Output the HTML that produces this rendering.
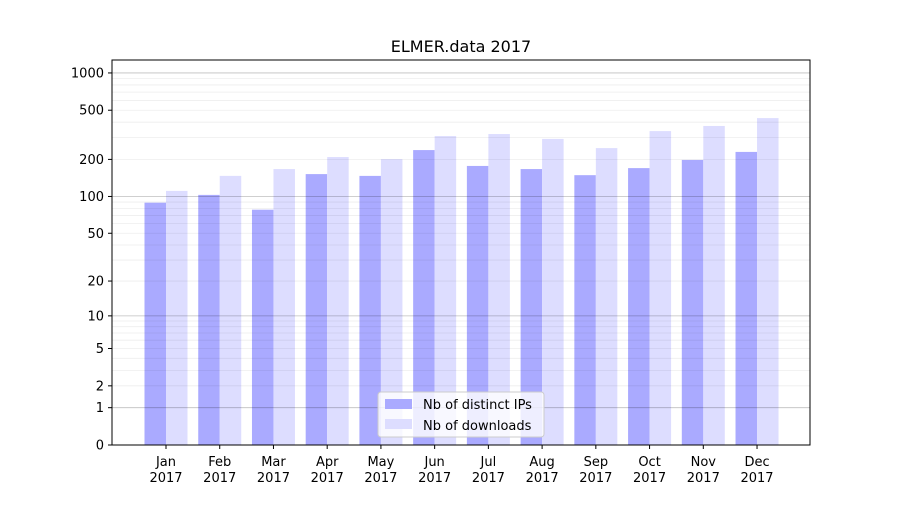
<!DOCTYPE html>
<html><head><meta charset="utf-8"><style>
body{margin:0;background:#fff;font-family:"Liberation Sans","DejaVu Sans",sans-serif}
svg text{font-family:"DejaVu Sans","Liberation Sans",sans-serif}
</style></head><body>
<svg id="chart" width="900" height="500" xmlns="http://www.w3.org/2000/svg">
<rect width="900" height="500" fill="#fff"/>
<text x="461" y="52" font-size="16" text-anchor="middle">ELMER.data 2017</text>
<g id="bars"></g><g id="grid"></g><g id="axes"></g>
<rect x="112" y="60" width="698" height="385" fill="none" stroke="#000" stroke-width="1"/>
<g>
<rect x="378" y="392" width="166" height="45" rx="3" fill="#fff" fill-opacity="0.8" stroke="#ccc"/>
<rect x="385" y="399" width="27" height="10" fill="#aaaaff"/>
<text x="423" y="409" font-size="13">Nb of distinct IPs</text>
<rect x="385" y="419" width="27" height="10" fill="#ddddff"/>
<text x="423" y="430" font-size="13">Nb of downloads</text>
</g>
</svg>
<script>
const months=["Jan","Feb","Mar","Apr","May","Jun","Jul","Aug","Sep","Oct","Nov","Dec"];
const ips=[89,103,78,152,147,238,177,167,149,170,198,230];
const downloads=[111,147,167,209,201,309,321,293,247,339,373,432];
const yTicks=[0,1,2,5,10,20,50,100,200,500,1000];
const NS="http://www.w3.org/2000/svg";
function y(v){return 445-124*Math.log10(1+v);}
function x(i){return 166+i*53.73;}
function mk(t,a,p){const e=document.createElementNS(NS,t);for(const k in a)e.setAttribute(k,a[k]);p.appendChild(e);return e;}
const grid=document.getElementById('grid'),bars=document.getElementById('bars'),axes=document.getElementById('axes');
[1,10,100,1000].forEach(d=>{for(let m=1;m<10;m++){const v=d*m;if(y(v)<60)continue;
const l=mk('line',{x1:112,x2:810,y1:y(v),y2:y(v),stroke:'#000','stroke-opacity':m==1?0.25:0.07,'stroke-width':m==1?0.8:0.8},grid);

}});
months.forEach((m,i)=>{
const b1=mk('rect',{x:x(i)-21.5,y:y(ips[i]),width:21.5,height:445-y(ips[i]),fill:'#aaaaff'},bars);


const b2=mk('rect',{x:x(i),y:y(downloads[i]),width:21.5,height:445-y(downloads[i]),fill:'#ddddff'},bars);


mk('line',{x1:x(i),x2:x(i),y1:445,y2:449,stroke:'#000'},axes);
const t=mk('text',{x:x(i),y:466,'font-size':13,'text-anchor':'middle'},axes);
t.textContent=m;


const t2=mk('text',{x:x(i),y:482,'font-size':13,'text-anchor':'middle'},axes);
t2.textContent='2017';


});
yTicks.forEach(v=>{
mk('line',{x1:108,x2:112,y1:y(v),y2:y(v),stroke:'#000'},axes);
const t=mk('text',{x:104,y:y(v)+4.5,'font-size':13,'text-anchor':'end'},axes);
t.textContent=v;


});
</script>
</body></html>
